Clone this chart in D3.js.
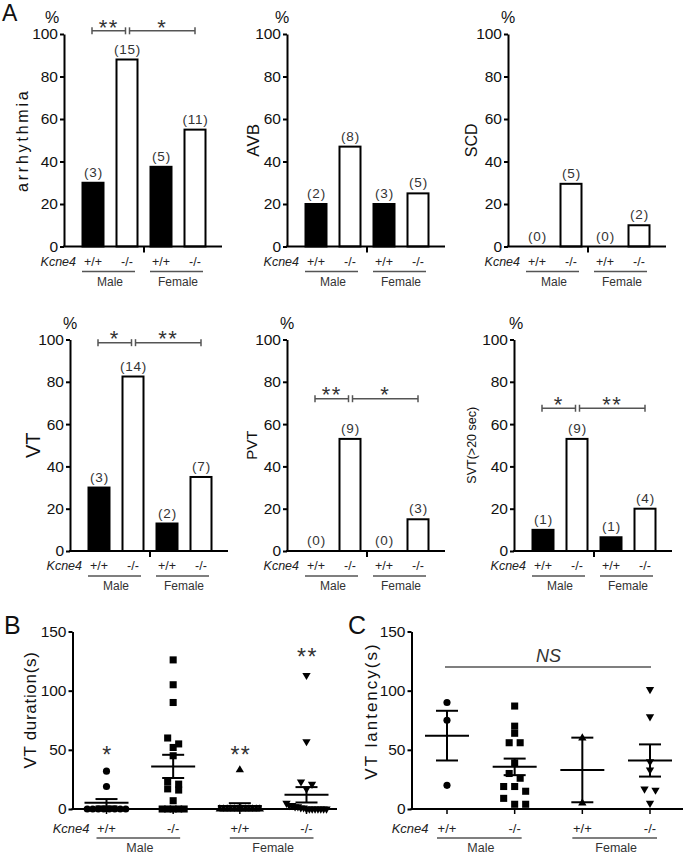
<!DOCTYPE html>
<html><head><meta charset="utf-8">
<script src="https://cdn.jsdelivr.net/npm/d3@7"></script>
<style>
body{margin:0;background:#fff}
svg{display:block}
text{font-family:"Liberation Sans",Arial,Helvetica,sans-serif}
</style>
</head><body>
<svg id="fig" width="685" height="853"></svg>
<script>
// ---------------- DATA ----------------
const genotypeLabels = ["+/+", "-/-", "+/+", "-/-"];
const sexLabels = ["Male", "Female"];
const pctTicks = [0, 20, 40, 60, 80, 100];
const secTicks = [0, 50, 100, 150];

const arrhythmiaPct = [30, 88, 37.5, 55];
const arrhythmiaN = ["(3)", "(15)", "(5)", "(11)"];
const avbPct = [20, 47, 20, 25];
const avbN = ["(2)", "(8)", "(3)", "(5)"];
const scdPct = [0, 29.5, 0, 10];
const scdN = ["(0)", "(5)", "(0)", "(2)"];
const vtPct = [30, 82.5, 13, 35];
const vtN = ["(3)", "(14)", "(2)", "(7)"];
const pvtPct = [0, 53, 0, 15];
const pvtN = ["(0)", "(9)", "(0)", "(3)"];
const svtPct = [10, 53, 6.5, 20];
const svtN = ["(1)", "(9)", "(1)", "(4)"];

const sigArrhythmia = ["**", "*"];
const sigVT = ["*", "**"];
const sigPVT = ["**", "*"];
const sigSVT = ["*", "**"];

// Panel B: VT duration (s)
const vtDurMaleWT = [32, 19, 0, 0, 0, 0, 0, 0, 0, 0];
const vtDurMaleKO = [126, 105, 90, 60, 55, 52, 45, 23, 21, 17, 16, 7, 0, 0, 0, 0, 0];
const vtDurFemaleWT = [33, 0, 0, 0, 0, 0, 0, 0, 0, 0, 0, 0, 0];
const vtDurFemaleKO = [113, 57, 23, 21, 17, 5, 3, 3, 2, 2, 1, 1, 0, 0, 0, 0, 0, 0, 0, 0];
const vtDurMean = [5.3, 36, 2.5, 12];
const vtDurSEM = [3.1, 9.8, 2.4, 6.5];
const vtDurSig = ["*", "", "**", "**"];

// Panel C: VT latency (s)
const vtLatMaleWT = [90, 75, 20];
const vtLatMaleKO = [87, 70, 64, 56, 56, 39, 30, 26, 19, 19, 15, 9, 4, 4];
const vtLatFemaleWT = [60, 5];
const vtLatFemaleKO = [101, 78, 40, 33, 17, 16, 5];
const vtLatMean = [62, 35.6, 33, 41];
const vtLatSEM = [21, 7, 27.3, 13.6];
const vtLatSig = "NS";

// ---------------- DRAWING ----------------
const svg = d3.select("#fig");
const FONT = '"Liberation Sans",Arial,Helvetica,sans-serif';

function styleAxis(g, fs) {
  g.select(".domain").attr("stroke", "#000").attr("stroke-width", 2);
  g.selectAll(".tick line").attr("stroke", "#000").attr("stroke-width", 2);
  g.selectAll(".tick text").attr("font-size", fs).attr("fill", "#111").attr("font-family", FONT);
}

function starText(g, x, yc, s, fs) {
  g.append("text").attr("x", x).attr("y", yc + fs * 0.58)
    .attr("text-anchor", "middle").attr("font-size", fs)
    .attr("letter-spacing", 1.5).attr("fill", "#333").text(s);
}

function groupLabels(g, xc, yBot, x0, o) {
  g.append("text").attr("x", x0 + o.kx).attr("y", yBot + o.kY)
    .attr("text-anchor", "end").attr("font-style", "italic")
    .attr("font-size", o.kfs).attr("fill", "#222").text("Kcne4");
  g.selectAll("text.geno").data(genotypeLabels).join("text").attr("class", "geno")
    .attr("x", (d, i) => xc(i)).attr("y", yBot + o.kY)
    .attr("text-anchor", "middle").attr("font-size", o.kfs).attr("fill", "#222").text(d => d);
  sexLabels.forEach((s, k) => {
    const a = xc(2 * k), b = xc(2 * k + 1);
    g.append("line").attr("x1", a - o.ul).attr("x2", b + o.ur)
      .attr("y1", yBot + o.uY).attr("y2", yBot + o.uY)
      .attr("stroke", "#555").attr("stroke-width", 1.3);
    g.append("text").attr("x", (a + b) / 2).attr("y", yBot + o.sY)
      .attr("text-anchor", "middle").attr("font-size", o.sfs).attr("fill", "#333").text(s);
  });
}

function barChart(c) {
  const g = svg.append("g");
  const y = d3.scaleLinear().domain([0, 100]).range([c.yBot, c.yTop]);
  const xc = d3.scalePoint().domain(d3.range(4)).range([c.x0 + 29, c.x0 + 131]);
  const bw = 21;
  g.selectAll("rect.bar").data(c.values.map((v, i) => ({ v, i })).filter(d => d.v > 0))
    .join("rect").attr("class", "bar")
    .attr("x", d => xc(d.i) - bw / 2).attr("width", bw)
    .attr("y", d => y(d.v)).attr("height", d => c.yBot - y(d.v))
    .attr("fill", d => d.i % 2 === 0 ? "#000" : "#fff")
    .attr("stroke", "#000").attr("stroke-width", 2);
  g.selectAll("text.n").data(c.ns).join("text").attr("class", "n")
    .attr("x", (d, i) => xc(i) + 0.5).attr("y", (d, i) => y(c.values[i]) - 6)
    .attr("text-anchor", "middle").attr("font-size", 13.5).attr("letter-spacing", 0.8)
    .attr("fill", "#333").text(d => d);
  const ax = g.append("g").attr("transform", `translate(${c.x0},0)`)
    .call(d3.axisLeft(y).tickValues(pctTicks).tickSize(4).tickSizeOuter(0).tickPadding(2));
  styleAxis(ax, 15.5);
  g.append("line").attr("x1", c.x0 - 1).attr("x2", c.x0 + 158)
    .attr("y1", c.yBot).attr("y2", c.yBot).attr("stroke", "#000").attr("stroke-width", 2);
  g.append("line").attr("x1", c.x0 + 80).attr("x2", c.x0 + 80)
    .attr("y1", c.yBot).attr("y2", c.yBot + 6).attr("stroke", "#000").attr("stroke-width", 2);
  g.append("text").attr("x", c.x0 + c.pctDx).attr("y", c.yTop - 11)
    .attr("text-anchor", "middle").attr("font-size", 16).attr("fill", "#111").text("%");
  g.append("text").attr("transform", `translate(${c.labelX},${(c.yTop + c.yBot) / 2}) rotate(-90)`)
    .attr("text-anchor", "middle").attr("dominant-baseline", "central")
    .attr("font-size", c.labelFs).attr("letter-spacing", c.labelLs || 0)
    .attr("fill", "#111").text(c.label);
  if (c.sig) {
    const by = y(c.sigLevel);
    const segs = [[xc(0) - 1, xc(1) - 1.5], [xc(1) + 2.5, xc(3)]];
    segs.forEach((s, k) => {
      g.append("line").attr("x1", s[0]).attr("x2", s[1]).attr("y1", by).attr("y2", by)
        .attr("stroke", "#555").attr("stroke-width", 1.5);
      s.forEach(xx => g.append("line").attr("x1", xx).attr("x2", xx)
        .attr("y1", by - 3.5).attr("y2", by + 3.5).attr("stroke", "#555").attr("stroke-width", 1.5));
      starText(g, (s[0] + s[1]) / 2, by - 9, c.sig[k], 22);
    });
  }
  groupLabels(g, xc, c.yBot, c.x0, { kx: 12, kY: 19, kfs: 12.5, ul: 11, ur: 8, uY: 25, sY: 39, sfs: 12 });
}

function swarmOffsets(vals, y, d) {
  const idx = d3.range(vals.length).sort((a, b) => vals[b] - vals[a]);
  const off = new Array(vals.length).fill(0);
  let row = [];
  const flush = () => {
    const k = row.length;
    const sp = k <= 3 ? 11 : Math.min(5.5, 40 / (k - 1));
    row.forEach((j, i) => off[j] = (i - (k - 1) / 2) * sp);
    row = [];
  };
  idx.forEach(j => {
    if (row.length && Math.abs(y(vals[j]) - y(vals[row[0]])) > 6.5) flush();
    row.push(j);
  });
  flush();
  return off;
}

const shapes = [
  { type: d3.symbolCircle, size: 40, rot: 0 },
  { type: d3.symbolSquare, size: 50, rot: 0 },
  { type: d3.symbolTriangle, size: 30, rot: 0 },
  { type: d3.symbolTriangle, size: 30, rot: 180 }
];

function scatterChart(c) {
  const g = svg.append("g");
  const y = d3.scaleLinear().domain([0, 150]).range([c.yBot, c.yTop]);
  const xc = d3.scalePoint().domain(d3.range(4)).range([c.x0 + c.c0, c.x0 + c.c1]);
  const ax = g.append("g").attr("transform", `translate(${c.x0},0)`)
    .call(d3.axisLeft(y).tickValues(secTicks).tickSize(4).tickSizeOuter(0).tickPadding(2));
  styleAxis(ax, 15.5);
  g.append("line").attr("x1", c.x0 - 1).attr("x2", c.xEnd).attr("y1", c.yBot).attr("y2", c.yBot)
    .attr("stroke", "#000").attr("stroke-width", 2);
  d3.range(4).forEach(i => g.append("line").attr("x1", xc(i)).attr("x2", xc(i))
    .attr("y1", c.yBot).attr("y2", c.yBot + 5).attr("stroke", "#000").attr("stroke-width", 1.5));
  c.sets.forEach((vals, i) => {
    const off = swarmOffsets(vals, y, 7);
    const sh = shapes[i];
    g.selectAll(null).data(vals).join("path")
      .attr("d", d3.symbol().type(sh.type).size(sh.size))
      .attr("transform", (d, j) => `translate(${xc(i) + off[j]},${y(d)}) rotate(${sh.rot})`)
      .attr("fill", "#000");
  });
  c.means.forEach((m, i) => {
    const x = xc(i), s = c.sems[i];
    g.append("line").attr("x1", x - 22).attr("x2", x + 22).attr("y1", y(m)).attr("y2", y(m))
      .attr("stroke", "#000").attr("stroke-width", 2);
    g.append("line").attr("x1", x).attr("x2", x).attr("y1", y(m - s)).attr("y2", y(m + s))
      .attr("stroke", "#000").attr("stroke-width", 2);
    [m - s, m + s].forEach(v => g.append("line").attr("x1", x - 11).attr("x2", x + 11)
      .attr("y1", y(v)).attr("y2", y(v)).attr("stroke", "#000").attr("stroke-width", 2));
  });
  g.append("text").attr("transform", `translate(${c.labelX},${c.labelY}) rotate(-90)`)
    .attr("text-anchor", "middle").attr("dominant-baseline", "central")
    .attr("font-size", c.labelFs).attr("letter-spacing", c.labelLs).attr("fill", "#111").text(c.label);
  g.append("text").attr("x", c.letterX).attr("y", 634).attr("font-size", 25).attr("fill", "#111").text(c.letter);
  if (c.stars) c.stars.forEach((s, i) => { if (s) starText(g, xc(i) + 1, y(c.starLevels[i]), s, 23); });
  if (c.ns) {
    g.append("line").attr("x1", xc(0) - 2).attr("x2", xc(3) + 1).attr("y1", y(120)).attr("y2", y(120))
      .attr("stroke", "#555").attr("stroke-width", 1.5);
    g.append("text").attr("x", (xc(0) + xc(3)) / 2).attr("y", y(120) - 5)
      .attr("text-anchor", "middle").attr("font-size", 18).attr("font-style", "italic")
      .attr("fill", "#333").text(c.ns);
  }
  groupLabels(g, xc, c.yBot, c.x0, { kx: 17, kY: 23.5, kfs: 13, ul: 10, ur: 7, uY: 29, sY: 42.5, sfs: 12.5 });
}

// Panel A
svg.append("text").attr("x", 2).attr("y", 21).attr("font-size", 23).attr("fill", "#111").text("A");
const topRow = { yTop: 34, yBot: 246.5 };
const botRow = { yTop: 339.5, yBot: 551 };
barChart({ ...topRow, x0: 64, values: arrhythmiaPct, ns: arrhythmiaN, label: "arrhythmia", labelX: 22, labelFs: 16, labelLs: 2.8, pctDx: -12, sig: sigArrhythmia, sigLevel: 101.5 });
barChart({ ...topRow, x0: 287, values: avbPct, ns: avbN, label: "AVB", labelX: 253, labelFs: 17, pctDx: -5 });
barChart({ ...topRow, x0: 508, values: scdPct, ns: scdN, label: "SCD", labelX: 471, labelFs: 16, pctDx: 0 });
barChart({ ...botRow, x0: 70, values: vtPct, ns: vtN, label: "VT", labelX: 33, labelFs: 20, pctDx: 0, sig: sigVT, sigLevel: 98.5 });
barChart({ ...botRow, x0: 287, values: pvtPct, ns: pvtN, label: "PVT", labelX: 251, labelFs: 15, pctDx: 0, sig: sigPVT, sigLevel: 72 });
barChart({ ...botRow, x0: 514, values: svtPct, ns: svtN, label: "SVT(>20 sec)", labelX: 472, labelFs: 12.5, pctDx: 2, sig: sigSVT, sigLevel: 67.5 });

// Panel B
scatterChart({ x0: 72.5, xEnd: 337, yTop: 631.5, yBot: 809, c0: 34, c1: 234,
  sets: [vtDurMaleWT, vtDurMaleKO, vtDurFemaleWT, vtDurFemaleKO], means: vtDurMean, sems: vtDurSEM,
  label: "VT duration(s)", labelX: 30, labelY: 710, labelFs: 17, labelLs: 0.7,
  letter: "B", letterX: 4, stars: vtDurSig, starLevels: [50, 0, 50, 133] });

// Panel C
scatterChart({ x0: 411.5, xEnd: 683, yTop: 631.5, yBot: 809, c0: 35.5, c1: 238.5,
  sets: [vtLatMaleWT, vtLatMaleKO, vtLatFemaleWT, vtLatFemaleKO], means: vtLatMean, sems: vtLatSEM,
  label: "VT lantency(s)", labelX: 371, labelY: 711, labelFs: 17, labelLs: 2,
  letter: "C", letterX: 348, ns: vtLatSig });
</script>
</body></html>
